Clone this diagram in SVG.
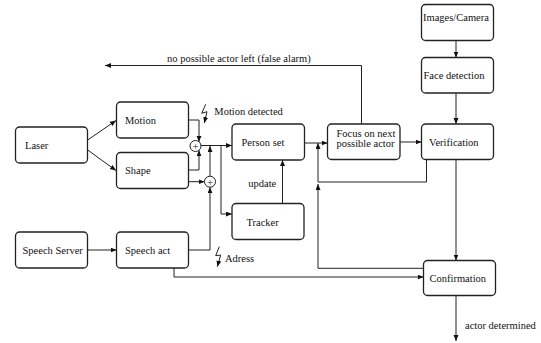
<svg xmlns="http://www.w3.org/2000/svg" width="541" height="343" viewBox="0 0 541 343">
<style>
.box{fill:#fff;stroke:#222;stroke-width:1.3}
.lbl{font-family:"Liberation Serif","Times New Roman",serif;font-size:10.5px;fill:#111}
.pl{font-family:"Liberation Serif","Times New Roman",serif;font-size:11px;fill:#111}
.c{fill:none;stroke:#222;stroke-width:1}
.a{marker-end:url(#ah)}
.sum{fill:#fff;stroke:#222;stroke-width:1}
</style>
<defs>
<marker id="ah" markerUnits="userSpaceOnUse" markerWidth="7" markerHeight="6" refX="6" refY="2.5" orient="auto">
<path d="M0,0 L6,2.5 L0,5 z" fill="#111"/>
</marker>
</defs>
<rect width="541" height="343" fill="#fff"/>
<g id="connectors">
<path class="c a" d="M87.7,140 L116,120.5"/>
<path class="c a" d="M87.7,150 L116,170.5"/>
<path class="c a" d="M87.5,250 H116.5"/>
<path class="c a" d="M188.5,120 H199 V141.8"/>
<path class="c a" d="M188.5,170 H199 V150.2"/>
<path class="c a" d="M188.5,181.7 H204.5"/>
<path class="c a" d="M201,145.5 H232"/>
<path class="c a" d="M188.5,250 H210 V187.2"/>
<path class="c a" d="M210,176.2 V146"/>
<path class="c a" d="M221,145.5 V214 H232"/>
<path class="c a" d="M282.5,203.5 V160"/>
<path class="c a" d="M304.5,143 H327.5"/>
<path class="c a" d="M361.5,124 V65.5 H105"/>
<path class="c a" d="M400,142 H421.5"/>
<path class="c a" d="M456,40.5 V57.5"/>
<path class="c a" d="M456,93 V124"/>
<path class="c a" d="M456,159.5 V260.5"/>
<path class="c" d="M426.5,159.5 V182 H318"/>
<path class="c a" d="M423.5,268.3 H318 V184"/>
<path class="c a" d="M318,182 V143"/>
<path class="c a" d="M174,268 V277 H423.5"/>
<path class="c a" d="M456,295.5 V341"/>
<path class="c a" d="M205.7,104.3 L201.7,113.3 L207,111.7 L204.3,123"/>
<path class="c a" d="M219.3,246.7 L215.7,255.7 L220.7,255 L217.3,266.7"/>
<text class="lbl" x="214.3" y="115">Motion detected</text>
<text class="lbl" x="225" y="262">Adress</text>
<text class="lbl" x="248.3" y="187">update</text>
<text class="lbl" x="167" y="62">no possible actor left (false alarm)</text>
<text class="lbl" x="465" y="329">actor determined</text>
</g>
<g id="sum1"><circle class="sum" cx="195.5" cy="146" r="5.5"/><text class="pl" x="195.5" y="149.8" text-anchor="middle">+</text></g>
<g id="sum2"><circle class="sum" cx="210" cy="181.7" r="5.5"/><text class="pl" x="210" y="185.5" text-anchor="middle">+</text></g>
<g id="laser"><rect class="box" x="15.5" y="127" width="72" height="36" rx="4"/><text class="lbl" x="25" y="148.5">Laser</text></g>
<g id="motion"><rect class="box" x="116.5" y="102" width="72" height="36" rx="4"/><text class="lbl" x="125" y="123.5">Motion</text></g>
<g id="shape"><rect class="box" x="116.5" y="152.5" width="72" height="36" rx="4"/><text class="lbl" x="125" y="174">Shape</text></g>
<g id="speechserver"><rect class="box" x="15.5" y="232" width="72" height="36" rx="4"/><text class="lbl" x="22.5" y="253.5">Speech Server</text></g>
<g id="speechact"><rect class="box" x="116.5" y="232" width="72" height="36" rx="4"/><text class="lbl" x="125" y="254">Speech act</text></g>
<g id="personset"><rect class="box" x="232" y="124" width="72.5" height="36" rx="4"/><text class="lbl" x="241.5" y="145.5">Person set</text></g>
<g id="tracker"><rect class="box" x="232" y="203.5" width="72" height="36" rx="4"/><text class="lbl" x="246.5" y="226">Tracker</text></g>
<g id="focus"><rect class="box" x="327.5" y="124" width="72.5" height="35.5" rx="4"/><text class="lbl" x="336.5" y="136.5">Focus on next</text><text class="lbl" x="336.5" y="146.5">possible actor</text></g>
<g id="verification"><rect class="box" x="421.5" y="124" width="72" height="35.5" rx="4"/><text class="lbl" x="429" y="145.5">Verification</text></g>
<g id="images"><rect class="box" x="421.5" y="4.5" width="72" height="36" rx="4"/><text class="lbl" x="423" y="21">Images/Camera</text></g>
<g id="face"><rect class="box" x="421.5" y="57.5" width="72" height="35.5" rx="4"/><text class="lbl" x="423.5" y="79">Face detection</text></g>
<g id="confirmation"><rect class="box" x="423.5" y="260.5" width="72" height="35" rx="4"/><text class="lbl" x="429.5" y="282">Confirmation</text></g>
</svg>
